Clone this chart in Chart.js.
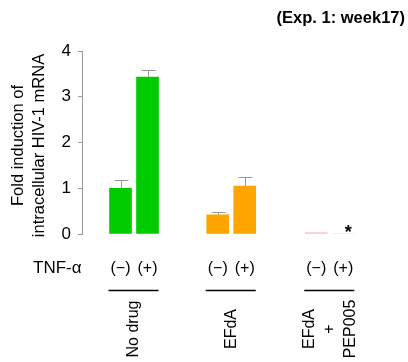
<!DOCTYPE html>
<html><head><meta charset="utf-8">
<script src="https://cdn.jsdelivr.net/npm/chart.js@4/dist/chart.umd.min.js"></script>
<style>html,body{margin:0;padding:0;background:#fff}#wrap{width:408px;height:362px}</style>
</head><body><div id="wrap"><canvas id="c" width="408" height="362"></canvas></div>
<script>
const groups = [['No drug'], ['EFdA'], ['EFdA', '+', 'PEP005']];
const tnfLabels = ['(\u2212)', '(+)'];
const means = [1.00, 3.43, 0.42, 1.05, 0.03, 0.00];
const errors = [0.17, 0.16, 0.07, 0.19, 0, 0];
const marks = ['', '', '', '', '', '*'];
const barColors = ['#00cc00', '#00cc00', '#ffa500', '#ffa500', '#ffc0cb', '#ffc0cb'];
const yTicks = [0, 1, 2, 3, 4];
const title = '(Exp. 1: week17)';
const yTitle = ['Fold induction of', 'intracellular HIV-1 mRNA'];
const rowLabel = 'TNF-\u03b1';

const FONT = "'Liberation Sans', Arial, sans-serif";
const groupOffsets = [0, 3.6, 7.25];
const positions = [];
groups.forEach((g, gi) => tnfLabels.forEach((t, j) => positions.push(groupOffsets[gi] + j)));

const annot = {
  id: 'annot',
  afterDraw(chart) {
    const ctx = chart.ctx;
    const xs = chart.scales.x, ys = chart.scales.y;
    ctx.save();
    // error bars
    ctx.strokeStyle = '#999';
    ctx.lineWidth = 1;
    means.forEach((m, i) => {
      if (!errors[i]) return;
      const x = Math.round(xs.getPixelForValue(positions[i])) + 0.5;
      const y0 = ys.getPixelForValue(m);
      const y1 = Math.round(ys.getPixelForValue(m + errors[i])) + 0.5;
      ctx.beginPath();
      ctx.moveTo(x, y0); ctx.lineTo(x, y1);
      ctx.moveTo(x - 7, y1); ctx.lineTo(x + 7, y1);
      ctx.stroke();
    });
    // significance marks
    ctx.fillStyle = '#000';
    ctx.font = 'bold 18px ' + FONT;
    ctx.textAlign = 'center';
    ctx.textBaseline = 'middle';
    marks.forEach((s, i) => {
      if (!s) return;
      ctx.fillText(s, xs.getPixelForValue(positions[i]) + 5, ys.getPixelForValue(means[i]) - 1);
    });
    // title
    ctx.font = 'bold 16.5px ' + FONT;
    ctx.textAlign = 'right';
    ctx.fillText(title, 405, 18);
    // y title
    ctx.font = '16.5px ' + FONT;
    ctx.textAlign = 'center';
    const cy = (ys.top + ys.bottom) / 2 + 3;
    yTitle.forEach((t, k) => {
      ctx.save();
      ctx.translate(18 + k * 21, cy);
      ctx.rotate(-Math.PI / 2);
      ctx.fillText(t, 0, 0);
      ctx.restore();
    });
    // row label
    ctx.font = '17px ' + FONT;
    ctx.textAlign = 'left';
    ctx.fillText(rowLabel, 33, 268);
    // tnf labels
    ctx.font = '16px ' + FONT;
    ctx.textAlign = 'center';
    positions.forEach((p, i) => {
      ctx.fillText(tnfLabels[i % 2], xs.getPixelForValue(p), 269);
    });
    // group lines and labels
    ctx.strokeStyle = '#000';
    ctx.lineWidth = 1.5;
    groups.forEach((g, gi) => {
      const xa = xs.getPixelForValue(positions[gi * 2]);
      const xb = xs.getPixelForValue(positions[gi * 2 + 1]);
      ctx.beginPath();
      ctx.moveTo(xa - 12, 290.5); ctx.lineTo(xb + 11, 290.5);
      ctx.stroke();
      const cx = (xa + xb) / 2;
      const n = g.length;
      g.forEach((t, k) => {
        ctx.save();
        ctx.translate(cx + (k - (n - 1) / 2) * 20.5, 329);
        ctx.rotate(-Math.PI / 2);
        ctx.fillText(t, 0, 0);
        ctx.restore();
      });
    });
    ctx.restore();
  }
};

new Chart(document.getElementById('c'), {
  type: 'bar',
  data: {
    datasets: [{
      data: means.map((v, i) => ({ x: positions[i], y: v })),
      backgroundColor: barColors,
      borderWidth: 0,
      barThickness: 22
    }]
  },
  options: {
    responsive: false,
    animation: false,
    devicePixelRatio: 1,
    layout: { padding: { top: 51, bottom: 128, left: 0, right: 8 } },
    plugins: { legend: { display: false }, tooltip: { enabled: false } },
    scales: {
      x: { type: 'linear', display: false, min: -1.426, max: 10.35, offset: false },
      y: {
        min: 0, max: 4,
        afterBuildTicks: s => { s.ticks = yTicks.map(v => ({ value: v })); },
        afterFit: s => { s.width = 82; },
        ticks: { color: '#000', padding: 7, font: { family: FONT, size: 17 } },
        grid: { drawOnChartArea: false, drawTicks: true, tickLength: 4, color: '#999' },
        border: { display: true, color: '#999', width: 1 }
      }
    }
  },
  plugins: [annot]
});
</script>
</body></html>
